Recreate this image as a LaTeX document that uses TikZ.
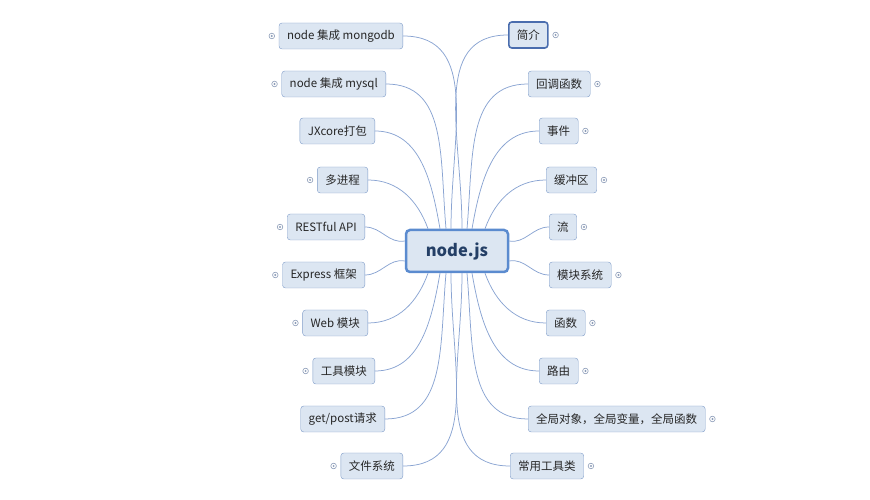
\documentclass[tikz,border=0pt]{standalone}
\usepackage{fontspec}
\newfontfamily\cjk{Noto Sans CJK SC}
\definecolor{boxFill}{HTML}{DCE6F2}
\definecolor{boxLine}{HTML}{7E9BC8}
\definecolor{rootLine}{HTML}{5B8BCF}
\definecolor{selLine}{HTML}{4A6DAE}
\definecolor{lineBlue}{HTML}{8AA4D2}
\definecolor{markLine}{HTML}{8C9CB8}
\definecolor{txt}{HTML}{262626}
\definecolor{rootTxt}{HTML}{243F66}
\begin{document}
\begin{tikzpicture}[x=1pt, y=1pt,
    topic/.style={draw=boxLine, fill=boxFill, rounded corners=3pt, minimum height=26pt, inner xsep=8pt, text=txt, font=\cjk\fontsize{11.5}{13}\selectfont},
    root/.style={draw=rootLine, line width=2.5pt, fill=boxFill, rounded corners=4pt, minimum width=102pt, minimum height=42pt, text=rootTxt, font=\cjk\bfseries\fontsize{16.5}{18}\selectfont},
    branch/.style={draw=lineBlue, line width=0.75pt},
    plus/.style={draw=markLine, fill=white, line width=0.6pt}]
    \useasboundingbox (0,0) rectangle (870,500);

    \node[root] (nodejs) at (457,249) {node.js};

    % left side
    \node[topic, anchor=east] (mongo)   at (403,464) {node 集成 mongodb};
    \node[topic, anchor=east] (mysql)   at (386,416) {node 集成 mysql};
    \node[topic, anchor=east] (jxcore)  at (375,369) {JXcore打包};
    \node[topic, anchor=east] (multi)   at (368,320) {多进程};
    \node[topic, anchor=east] (rest)    at (365,273) {RESTful API};
    \node[topic, anchor=east] (express) at (365,225) {Express 框架};
    \node[topic, anchor=east] (web)     at (368,177) {Web 模块};
    \node[topic, anchor=east] (tools)   at (375,129) {工具模块};
    \node[topic, anchor=east] (getpost) at (385,81)  {get/post请求};
    \node[topic, anchor=east] (fs)      at (403,34)  {文件系统};

    % right side
    \node[topic, anchor=west, draw=selLine, line width=1.6pt] (intro) at (508,465) {简介};
    \node[topic, anchor=west] (callback) at (528,416) {回调函数};
    \node[topic, anchor=west] (events)   at (539,369) {事件};
    \node[topic, anchor=west] (buffer)   at (546,320) {缓冲区};
    \node[topic, anchor=west] (stream)   at (549,273) {流};
    \node[topic, anchor=west] (modules)  at (549,225) {模块系统};
    \node[topic, anchor=west] (funcs)    at (546,177) {函数};
    \node[topic, anchor=west] (router)   at (539,129) {路由};
    \node[topic, anchor=west] (globals)  at (528,81)  {全局对象，全局变量，全局函数};
    \node[topic, anchor=west] (util)     at (510,34)  {常用工具类};

    % connectors, top half
    \draw[branch] ([xshift=-6pt]nodejs.north)  to[out=90,in=0,out looseness=1.2]   (mongo.east);
    \draw[branch] ([xshift=-11pt]nodejs.north) to[out=95,in=0,out looseness=1.2]   (mysql.east);
    \draw[branch] ([xshift=-17pt]nodejs.north) to[out=100,in=0]  (jxcore.east);
    \draw[branch] ([xshift=-29pt]nodejs.north) to[out=110,in=0]  (multi.east);
    \draw[branch] ([xshift=5pt]nodejs.north)   to[out=90,in=180,out looseness=1.2] (intro.west);
    \draw[branch] ([xshift=10pt]nodejs.north)  to[out=85,in=180,out looseness=1.2] (callback.west);
    \draw[branch] ([xshift=15pt]nodejs.north)  to[out=80,in=180] (events.west);
    \draw[branch] ([xshift=28pt]nodejs.north)  to[out=70,in=180] (buffer.west);

    % connectors, middle
    \draw[branch] ([yshift=10pt]nodejs.west)   to[out=190,in=0] (rest.east);
    \draw[branch] ([yshift=-10pt]nodejs.west)  to[out=170,in=0] (express.east);
    \draw[branch] ([yshift=10pt]nodejs.east)   to[out=-10,in=180] (stream.west);
    \draw[branch] ([yshift=-10pt]nodejs.east)  to[out=10,in=180] (modules.west);

    % connectors, bottom half
    \draw[branch] ([xshift=-29pt]nodejs.south) to[out=250,in=0]   (web.east);
    \draw[branch] ([xshift=-17pt]nodejs.south) to[out=260,in=0]   (tools.east);
    \draw[branch] ([xshift=-11pt]nodejs.south) to[out=265,in=0,out looseness=1.2]   (getpost.east);
    \draw[branch] ([xshift=-6pt]nodejs.south)  to[out=270,in=0,out looseness=1.2]   (fs.east);
    \draw[branch] ([xshift=28pt]nodejs.south)  to[out=290,in=180] (funcs.west);
    \draw[branch] ([xshift=15pt]nodejs.south)  to[out=280,in=180] (router.west);
    \draw[branch] ([xshift=10pt]nodejs.south)  to[out=275,in=180,out looseness=1.2] (globals.west);
    \draw[branch] ([xshift=5pt]nodejs.south)   to[out=270,in=180,out looseness=1.2] (util.west);

    % expand markers
    \foreach \n in {mongo, mysql, multi, rest, express, web, tools, fs} {
        \draw[plus] ([xshift=-7pt]\n.west) circle (2.8pt);
        \fill[markLine] ([xshift=-7pt]\n.west) circle (1.1pt);
    }
    \foreach \n in {intro, callback, events, buffer, stream, modules, funcs, router, globals, util} {
        \draw[plus] ([xshift=7pt]\n.east) circle (2.8pt);
        \fill[markLine] ([xshift=7pt]\n.east) circle (1.1pt);
    }
\end{tikzpicture}
\end{document}
